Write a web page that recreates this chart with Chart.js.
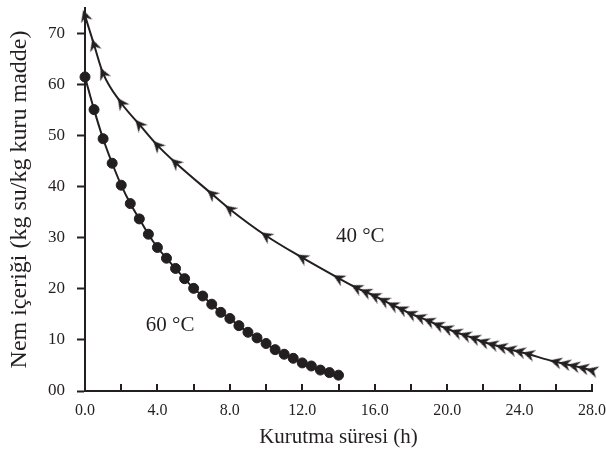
<!DOCTYPE html>
<html>
<head>
<meta charset="utf-8">
<script src="https://cdn.jsdelivr.net/npm/chart.js@4"></script>
<style>
  html, body { margin: 0; padding: 0; background: #fff; }
  #wrap { width: 606px; height: 456px; }
</style>
</head>
<body>
<div id="wrap"><canvas id="kuruma" width="606" height="456"></canvas></div>
<script>
// Kuruma eğrileri: 60 °C ve 40 °C
const sure60 = [0, 0.5, 1, 1.5, 2, 2.5, 3, 3.5, 4, 4.5, 5, 5.5, 6, 6.5, 7, 7.5, 8, 8.5, 9, 9.5, 10, 10.5, 11, 11.5, 12, 12.5, 13, 13.5, 14];
const nem60 = [61.5, 55.1, 49.4, 44.6, 40.3, 36.7, 33.7, 30.7, 28.1, 26.0, 24.0, 22.0, 20.1, 18.6, 17.0, 15.4, 14.2, 12.8, 11.5, 10.4, 9.3, 8.1, 7.2, 6.4, 5.5, 4.9, 4.1, 3.6, 3.1];

const sure40 = [0, 0.5, 1, 2, 3, 4, 5, 7, 8, 10, 12, 14, 15, 15.5, 16, 16.5, 17, 17.5, 18, 18.5, 19, 19.5, 20, 20.5, 21, 21.5, 22, 22.5, 23, 23.5, 24, 24.5, 26, 26.5, 27, 27.5, 28];
const nem40 = [73.5, 67.8, 62.2, 56.4, 52.2, 48.1, 44.7, 38.6, 35.6, 30.4, 26.1, 22.1, 20.2, 19.4, 18.6, 17.7, 16.8, 16.0, 15.1, 14.4, 13.7, 12.9, 12.2, 11.5, 10.9, 10.3, 9.6, 9.1, 8.6, 8.1, 7.7, 7.2, 5.7, 5.3, 4.9, 4.5, 4.0];

const xTickValues = [0, 2, 4, 6, 8, 10, 12, 14, 16, 18, 20, 22, 24, 26, 28];
const xTickLabels = ['0.0', '', '4.0', '', '8.0', '', '12.0', '', '16.0', '', '20.0', '', '24.0', '', '28.0'];
const yTickValues = [0, 10, 20, 30, 40, 50, 60, 70];
const yTickLabels = ['00', '10', '20', '30', '40', '50', '60', '70'];

const seriesLabels = ['60 °C', '40 °C'];
const labelPos = [{ x: 4.7, y: 12.9 }, { x: 15.2, y: 30.2 }];

const ink = '#231f20';
const serif = '"Liberation Serif", "Times New Roman", serif';

function toPoints(xs, ys) {
  return xs.map((x, i) => ({ x: x, y: ys[i] }));
}

// çentikli ok başı işaretçisi (yukarı bakar, döndürme ile yönlenir)
const okBasi = document.createElement('canvas');
okBasi.width = 12;
okBasi.height = 12;
(function () {
  const c = okBasi.getContext('2d');
  c.fillStyle = ink;
  c.beginPath();
  c.moveTo(6, 0);
  c.lineTo(12, 12);
  c.lineTo(6, 8);
  c.lineTo(0, 12);
  c.closePath();
  c.fill();
})();

// ok başı eğri boyunca geriye (başlangıca) doğru bakar
function okYonu(ctx) {
  const chart = ctx.chart;
  const xs = chart.scales.x;
  const ys = chart.scales.y;
  if (!xs || !ys) return 0;
  const i = ctx.dataIndex;
  const a = Math.max(i - 1, 0);
  const b = Math.min(i + 1, sure40.length - 1);
  const dx = xs.getPixelForValue(sure40[b]) - xs.getPixelForValue(sure40[a]);
  const dy = ys.getPixelForValue(nem40[b]) - ys.getPixelForValue(nem40[a]);
  const aci = Math.atan2(dy, dx) * 180 / Math.PI;
  return aci - 90;
}

// x ekseni çentikleri grafiğin içine doğru, etiketler de sıcaklık yazıları
const ekPlugin = {
  id: 'ekler',
  afterDraw(chart) {
    const ctx = chart.ctx;
    const xs = chart.scales.x;
    const ys = chart.scales.y;
    const bottom = chart.chartArea.bottom;
    ctx.save();
    ctx.strokeStyle = ink;
    ctx.lineWidth = 2;
    xTickValues.forEach(v => {
      const px = Math.round(xs.getPixelForValue(v));
      ctx.beginPath();
      ctx.moveTo(px, bottom);
      ctx.lineTo(px, bottom - 7);
      ctx.stroke();
    });
    ctx.fillStyle = ink;
    ctx.font = '21px ' + serif;
    ctx.textAlign = 'center';
    ctx.textBaseline = 'middle';
    seriesLabels.forEach((t, i) => {
      ctx.fillText(t, xs.getPixelForValue(labelPos[i].x), ys.getPixelForValue(labelPos[i].y));
    });
    ctx.restore();
  }
};

new Chart(document.getElementById('kuruma'), {
  type: 'scatter',
  data: {
    datasets: [
      {
        label: seriesLabels[0],
        data: toPoints(sure60, nem60),
        showLine: true,
        cubicInterpolationMode: 'monotone',
        borderColor: ink,
        borderWidth: 2,
        pointStyle: 'circle',
        pointRadius: 5,
        pointBackgroundColor: ink,
        pointBorderColor: ink,
        pointBorderWidth: 1,
        clip: false
      },
      {
        label: seriesLabels[1],
        data: toPoints(sure40, nem40),
        showLine: true,
        cubicInterpolationMode: 'monotone',
        borderColor: ink,
        borderWidth: 2,
        pointStyle: okBasi,
        pointRotation: okYonu,
        pointRadius: 6,
        clip: false
      }
    ]
  },
  options: {
    responsive: false,
    animation: false,
    layout: { padding: { top: 6, right: 14, left: 0, bottom: 0 } },
    plugins: {
      legend: { display: false },
      tooltip: { enabled: false }
    },
    scales: {
      x: {
        type: 'linear',
        min: 0,
        max: 28,
        afterBuildTicks: s => { s.ticks = xTickValues.map(v => ({ value: v })); },
        afterFit: s => {
          s.height = 65;
          s.paddingLeft = 0;
          s.paddingRight = 0;
        },
        ticks: {
          autoSkip: false,
          maxRotation: 0,
          padding: 10,
          color: ink,
          font: { family: serif, size: 16 },
          callback: (v, i) => xTickLabels[i]
        },
        grid: { display: true, drawOnChartArea: false, drawTicks: false },
        border: { display: true, color: ink, width: 2 },
        title: {
          display: true,
          text: 'Kurutma süresi (h)',
          color: ink,
          font: { family: serif, size: 21 },
          padding: { top: 0, bottom: 6 }
        }
      },
      y: {
        type: 'linear',
        min: 0,
        max: 75,
        afterBuildTicks: s => { s.ticks = yTickValues.map(v => ({ value: v })); },
        afterFit: s => {
          s.width = 85;
          s.paddingTop = 0;
          s.paddingBottom = 0;
        },
        ticks: {
          padding: 12,
          color: ink,
          font: { family: serif, size: 17 },
          callback: (v, i) => yTickLabels[i]
        },
        grid: {
          display: true,
          drawOnChartArea: false,
          drawTicks: true,
          tickLength: 8,
          tickWidth: 2,
          tickColor: ink
        },
        border: { display: true, color: ink, width: 2 },
        title: {
          display: true,
          text: 'Nem içeriği (kg su/kg kuru madde)',
          color: ink,
          font: { family: serif, size: 24 },
          padding: { top: 5, bottom: 0 }
        }
      }
    }
  },
  plugins: [ekPlugin]
});
</script>
</body>
</html>
